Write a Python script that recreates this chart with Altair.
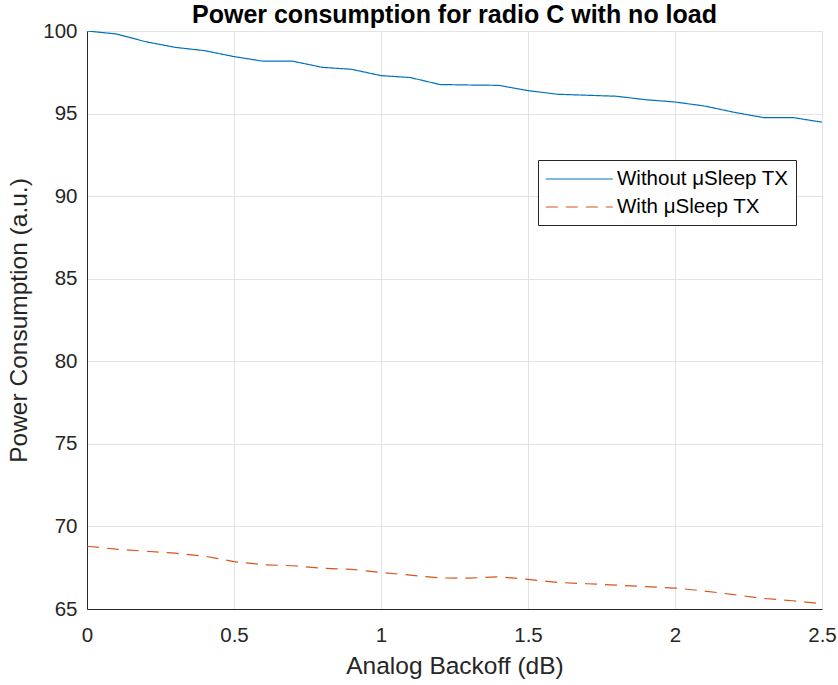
import altair as alt
import pandas as pd

x_vals = [0.0, 0.1, 0.2, 0.3, 0.4, 0.5, 0.6, 0.7, 0.8, 0.9, 1.0, 1.1, 1.2,
          1.3, 1.4, 1.5, 1.6, 1.7, 1.8, 1.9, 2.0, 2.1, 2.2, 2.3, 2.4, 2.5]
without_sleep = [100.0, 99.82, 99.35, 99.01, 98.81, 98.45, 98.17, 98.17, 97.80,
                 97.68, 97.30, 97.18, 96.76, 96.73, 96.71, 96.39, 96.17, 96.11,
                 96.05, 95.84, 95.70, 95.46, 95.08, 94.76, 94.76, 94.48]
with_sleep = [68.80, 68.62, 68.50, 68.38, 68.20, 67.87, 67.68, 67.62, 67.47,
              67.40, 67.21, 67.05, 66.88, 66.87, 66.95, 66.79, 66.61, 66.53,
              66.45, 66.35, 66.27, 66.09, 65.87, 65.64, 65.50, 65.32]
series_names = ["Without μSleep TX", "With μSleep TX"]
x_ticks = [0, 0.5, 1, 1.5, 2, 2.5]
y_ticks = [65, 70, 75, 80, 85, 90, 95, 100]

rows = []
for name, vals in zip(series_names, [without_sleep, with_sleep]):
    for i, (xv, yv) in enumerate(zip(x_vals, vals)):
        rows.append({"x": xv, "y": yv, "series": name, "order": i})
df = pd.DataFrame(rows)

FONT = "Liberation Sans"

legend_cfg = dict(orient="none", legendX=451, legendY=129, title=None,
                  symbolType="M-1,0H5", symbolSize=500,
                  symbolStrokeWidth=1.2, labelFontSize=20.5,
                  labelFont=FONT, labelColor="#000000",
                  strokeColor="#262626", fillColor="white",
                  padding=7, labelLimit=400, labelOffset=48, rowPadding=5)

chart = alt.Chart(df).mark_line(strokeWidth=1.2, clip=True).encode(
    x=alt.X("x:Q", scale=alt.Scale(domain=[0, 2.5], nice=False, zero=False),
            axis=alt.Axis(title="Analog Backoff (dB)", values=x_ticks, format="~g",
                          ticks=False, labelPadding=16, titlePadding=9,
                          labelFontSize=20.5, titleFontSize=24.5, labelFont=FONT,
                          titleFont=FONT, titleFontWeight="normal",
                          labelColor="#262626", titleColor="#262626",
                          domainColor="#262626", gridColor="#E3E3E3",
                          labelFlush=False)),
    y=alt.Y("y:Q", scale=alt.Scale(domain=[65, 100], nice=False, zero=False),
            axis=alt.Axis(title="Power Consumption (a.u.)", values=y_ticks,
                          ticks=False, labelPadding=10, titlePadding=11,
                          labelFontSize=20.5, titleFontSize=24.5, labelFont=FONT,
                          titleFont=FONT, titleFontWeight="normal",
                          labelColor="#262626", titleColor="#262626",
                          domainColor="#262626", gridColor="#E3E3E3",
                          labelFlush=False)),
    color=alt.Color("series:N",
                    scale=alt.Scale(domain=series_names, range=["#0072BD", "#D95319"]),
                    legend=alt.Legend(**legend_cfg)),
    strokeDash=alt.StrokeDash("series:N",
                              scale=alt.Scale(domain=series_names, range=[[1, 0], [12, 8]]),
                              legend=alt.Legend(**legend_cfg)),
    order="order:Q",
).properties(
    width=735,
    height=578,
    title=alt.TitleParams("Power consumption for radio C with no load",
                          font=FONT, fontSize=25, fontWeight="bold", color="#000000",
                          anchor="middle", offset=6, dy=13),
    autosize=alt.AutoSizeParams(type="none"),
    padding={"left": 87, "top": 31, "right": 16, "bottom": 76},
).configure_view(
    stroke="#262626", strokeWidth=1
).configure(background="white")

chart.save("out.html", embed_options={"renderer": "svg", "actions": False})
